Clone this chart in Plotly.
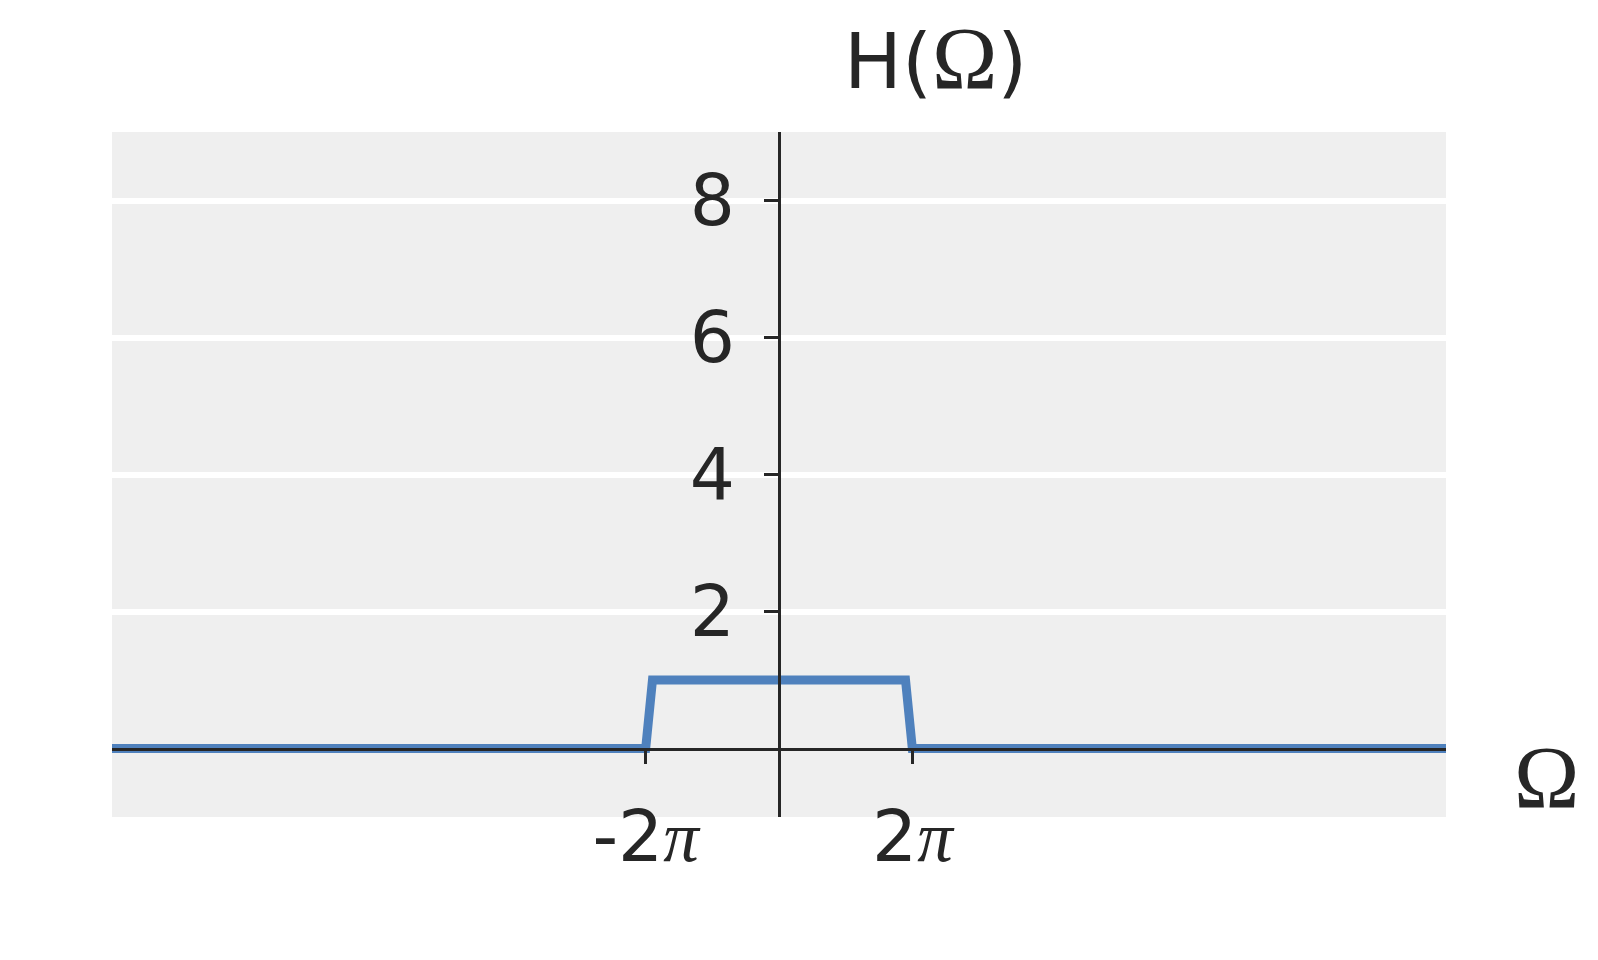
import plotly.graph_objects as go

# data
omega = [-31.42, -6.28, -5.96, 5.96, 6.28, 31.42]
H = [0, 0, 1, 1, 0, 0]
x_tickvals = [-6.2832, 6.2832]
x_ticktext = ["-2<span style='font-family:Liberation Serif;font-style:italic'>π</span>",
              "2<span style='font-family:Liberation Serif;font-style:italic'>π</span>"]
y_tickvals = [2, 4, 6, 8]
y_ticktext = ["2", "4", "6", "8"]
x_range = [-31.42, 31.42]
y_range = [-1, 9]

AX = "#262626"
fig = go.Figure()
fig.add_trace(go.Scatter(x=omega, y=H, mode="lines",
                         line=dict(color="rgb(79,129,189)", width=9),
                         showlegend=False, hoverinfo="skip"))

xpos = (0 - y_range[0]) / (y_range[1] - y_range[0])
ypos = (0 - x_range[0]) / (x_range[1] - x_range[0])

fig.update_layout(
    width=1590, height=952,
    margin=dict(l=104, r=152, t=124, b=143),
    paper_bgcolor="white", plot_bgcolor="#efefef",
    font=dict(family="DejaVu Sans", color=AX, size=71),
    xaxis=dict(range=x_range, anchor="free", position=xpos,
               showline=True, linecolor=AX, linewidth=2.5,
               showgrid=False, zeroline=False,
               tickmode="array", tickvals=x_tickvals, ticktext=x_ticktext,
               ticks="outside", ticklen=14, tickwidth=2.5, tickcolor=AX,
               ticklabelstandoff=12,
               tickfont=dict(size=71, family="DejaVu Sans", color=AX)),
    yaxis=dict(range=y_range, anchor="free", position=ypos,
               showline=True, linecolor=AX, linewidth=2.5,
               showgrid=True, gridcolor="white", gridwidth=6, zeroline=False,
               tickmode="array", tickvals=y_tickvals, ticktext=y_ticktext,
               ticks="outside", ticklen=14, tickwidth=2.5, tickcolor=AX,
               ticklabelstandoff=15,
               tickfont=dict(size=71, family="DejaVu Sans", color=AX)),
    annotations=[
        dict(text="H(<span style='font-family:Liberation Serif;font-size:88px'>Ω</span>)",
             xref="paper", yref="paper", x=0.617, y=1.1075,
             xanchor="center", yanchor="middle", showarrow=False,
             font=dict(size=77, family="DejaVu Sans", color=AX)),
        dict(text="Ω", xref="paper", yref="paper", x=1.0757, y=0.058,
             xanchor="center", yanchor="middle", showarrow=False,
             font=dict(size=88, family="Liberation Serif", color=AX)),
    ],
)
fig.write_html("out.html")
